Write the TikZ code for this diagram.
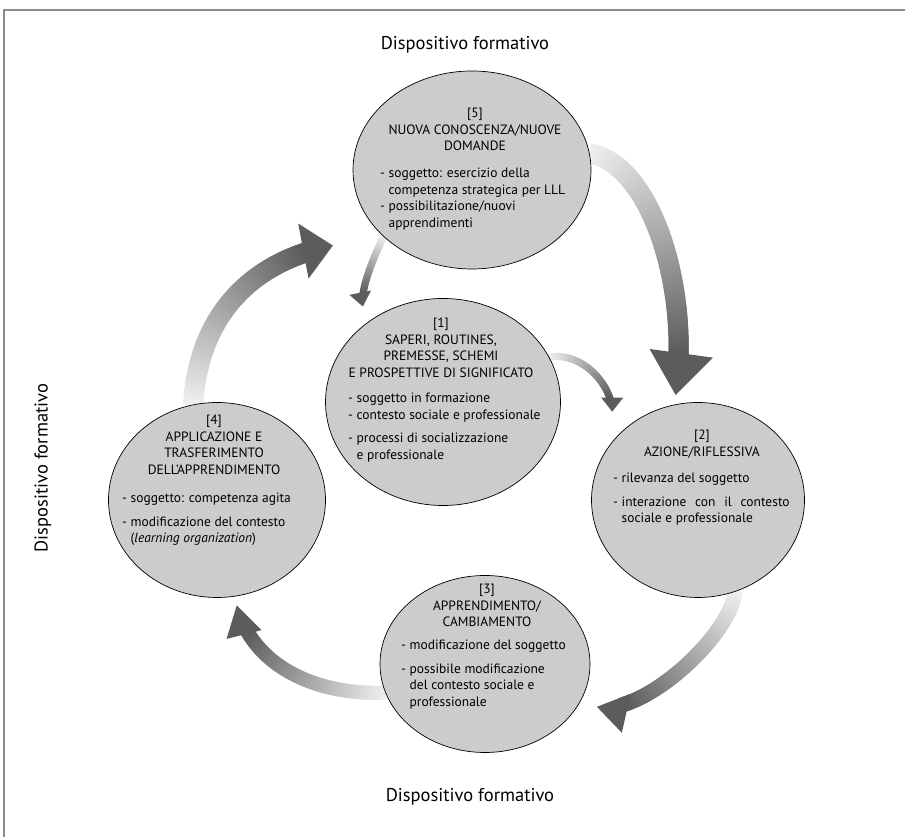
\documentclass[tikz,border=0pt]{standalone}
\usepackage{fontspec}
\setmainfont{PT Sans}
\usetikzlibrary{shapes.geometric,decorations.markings,calc}

\pgfdeclarelayer{background}
\pgfsetlayers{background,main}

\tikzset{
  fase/.style={ellipse, draw, fill=black!20, line width=0.7pt, inner sep=0pt},
  titolo/.style={align=center, anchor=north, inner sep=0pt,
    font=\fontsize{13.5}{16.5}\selectfont},
  voci/.style={align=left, anchor=north west, inner sep=0pt,
    font=\fontsize{13.5}{16.5}\selectfont},
  dispositivo/.style={inner sep=0pt, font=\fontsize{18.5}{22}\selectfont},
  cornice/.style={draw=black!45, line width=1.2pt},
  % thick shaded arrow: band half width, head length, head half width
  flow/.style n args={3}{
    postaction={decorate, decoration={markings,
      mark=between positions 0 and -#2pt+3pt step 2pt with {
        \pgfmathsetmacro\flowfrac{min(1,\pgfkeysvalueof{/pgf/decoration/mark info/distance from start}/(\pgfdecoratedpathlength-#2))}
        \pgfmathsetmacro\flowtone{6+58*\flowfrac}
        \fill[black!\flowtone] (-1,-#1) rectangle (3,#1);}}},
    postaction={decorate, decoration={markings,
      mark=at position 0.9999 with {
        \fill[black!64] (0,0) -- (-#2,#3) -- (-#2,-#3) -- cycle;}}}}
}

\begin{document}
\begin{tikzpicture}[x=1pt,y=1pt]
  \useasboundingbox (0,0) rectangle (905,837);
  \draw[cornice] (4,0) -- (4,827) -- (905,827);

  \node[dispositivo] (dispnord) at (465,792) {Dispositivo formativo};
  \node[dispositivo] (dispsud) at (470,40) {Dispositivo formativo};
  \node[dispositivo, rotate=90] (dispovest) at (43,369) {Dispositivo formativo};

  % the five phases
  \node[fase, minimum width=238, minimum height=198] (conoscenza) at (472,667) {};
  \node[fase, minimum width=235, minimum height=207] (saperi) at (443,435) {};
  \node[fase, minimum width=217, minimum height=195] (applicazione) at (217,337) {};
  \node[fase, minimum width=213, minimum height=195] (azione) at (698,337) {};
  \node[fase, minimum width=210, minimum height=177] (apprendimento) at (485,173) {};

  \node[titolo] (conoscenzaT) at (475,729) {[5]\\NUOVA CONOSCENZA/NUOVE\\DOMANDE};
  \node[voci] (conoscenzaV) at (380,669) {- soggetto: esercizio della\\\hphantom{- }competenza strategica per LLL\\- possibilitazione/nuovi\\\hphantom{- }apprendimenti};

  \node[titolo] (saperiT) at (441,519) {[1]\\SAPERI, ROUTINES,\\PREMESSE, SCHEMI\\E PROSPETTIVE DI SIGNIFICATO};
  \node[voci] (saperiV) at (348,444) {- soggetto in formazione\\- contesto sociale e professionale\\[7pt]- processi di socializzazione\\\hphantom{- }e professionale};

  \node[titolo] (applicazioneT) at (214,422) {[4]\\APPLICAZIONE E\\TRASFERIMENTO\\DELL'APPRENDIMENTO};
  \node[voci] (applicazioneV) at (122,344) {- soggetto: competenza agita\\[7pt]- modificazione del contesto\\\hphantom{- }(\textit{learning organization})};

  \node[titolo] (azioneT) at (702,407) {[2]\\AZIONE/RIFLESSIVA};
  \node[voci] (azioneV) at (613,364) {- rilevanza del soggetto\\[7pt]- \makebox[168pt][s]{interazione con il contesto}\\\hphantom{- }sociale e professionale};

  \node[titolo] (apprendimentoT) at (487,253) {[3]\\APPRENDIMENTO/\\CAMBIAMENTO};
  \node[voci] (apprendimentoV) at (401,197) {- modificazione del soggetto\\[7pt]- possibile modificazione\\\hphantom{- }del contesto sociale e\\\hphantom{- }professionale};

  % shaded arrows behind the phases
  \begin{pgfonlayer}{background}
    \path[flow={10}{42}{32}] (conoscenza.8) .. controls +(60,-10) and +(15,110) .. ($(azione.102)+(-2,9)$);
    \path[flow={7.5}{30}{20}] (azione.-68) .. controls +(-5,-45) and +(45,-10) .. ($(apprendimento.-21)+(16,-6)$);
    \path[flow={7}{30}{18}] (apprendimento.196) .. controls +(-70,-3) and +(15,-60) .. ($(applicazione.-79)+(1,-9)$);
    \path[flow={10}{30}{28}] (applicazione.104) .. controls +(5,90) and +(-80,-15) .. ($(conoscenza.205)+(-35,-27)$);
    \path[flow={3.5}{14}{11}] (conoscenza.217) .. controls +(-12,-25) and +(-3,15) .. ($(saperi.130)+(-10,12)$);
    \path[flow={3.5}{14}{11}] (saperi.23) .. controls +(35,5) and +(0,25) .. ($(azione.134)+(-15,15)$);
  \end{pgfonlayer}
\end{tikzpicture}
\end{document}
